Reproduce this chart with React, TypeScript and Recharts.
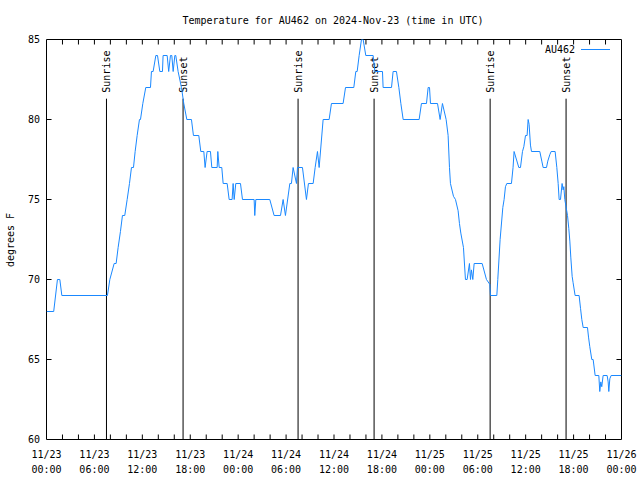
import React from 'react';
import { LineChart, Line, XAxis, YAxis, ReferenceLine, ReferenceArea } from 'recharts';

const FONT = '"DejaVu Sans Mono", monospace';
const LINE_COLOR = '#1a88ff';

const hours = [
  0, 0.9, 1.37, 1.67, 1.92, 7.63, 7.93, 8.47, 8.72, 8.97, 9.26, 9.51, 9.8, 10.1, 10.39, 10.64, 10.89, 11.1, 11.35, 11.64,
  11.77, 12.06, 12.43, 13.02, 13.14, 13.35, 13.69, 13.9, 14.19, 14.52, 14.6, 15.11, 15.3, 15.52, 15.69, 15.86, 16.07, 16.19,
  16.48, 16.9, 17.19, 17.57, 18.15, 18.4, 19.07, 19.32, 19.7, 19.86, 20.11, 20.53, 20.7, 21.37, 21.45, 21.62, 21.95, 22.12,
  22.62, 22.87, 23.24, 23.37, 23.5, 23.7, 24.29, 24.54, 26.0, 26.08, 26.21, 27.96, 28.5, 29.3, 29.63, 29.92, 30.47, 30.67,
  30.88, 31.3, 31.43, 32.05, 32.55, 32.8, 33.39, 33.64, 33.93, 34.14, 34.64, 35.39, 35.68, 37.14, 37.44, 38.48, 38.73, 38.9,
  39.15, 39.44, 39.65, 39.98, 40.9, 41.11, 42.07, 42.15, 43.2, 43.4, 43.82, 44.12, 44.37, 44.66, 46.66, 46.95, 47.58, 47.79,
  47.96, 48.08, 48.96, 49.29, 49.58, 50.04, 50.29, 50.46, 50.58, 50.96, 51.21, 51.54, 51.71, 51.88, 52.21, 52.46, 52.67,
  52.96, 53.09, 53.21, 53.38, 53.55, 54.55, 55.09, 55.51, 55.59, 56.39, 56.51, 56.8, 57.14, 57.3, 57.47, 57.64, 58.22, 58.42,
  58.55, 59.14, 59.35, 59.6, 59.77, 59.98, 60.18, 60.31, 60.43, 60.6, 60.73, 61.77, 62.02, 62.19, 62.61, 62.77, 63.02, 63.19,
  63.69, 63.9, 64.07, 64.19, 64.36, 64.56, 64.69, 64.78, 64.9, 65.24, 65.4, 65.53, 65.65, 65.82, 65.94, 66.19, 66.69, 66.87,
  67.03, 67.2, 67.74, 67.87, 68.03, 68.28, 68.45, 68.7, 69.16, 69.28, 69.41, 69.53, 69.7, 70.2, 70.33, 70.41, 70.54, 70.7, 72,
];

const temps = [
  68, 68, 70, 70, 69, 69, 70, 71, 71, 72, 73, 74, 74, 75, 76, 77, 77, 78, 79, 80,
  80, 81, 82, 82, 83, 83, 84, 84, 83, 83, 84, 84, 83, 84, 84, 83, 84, 84,
  83, 82, 81, 80, 80, 79, 79, 78, 78, 77, 78, 78, 77, 77, 78, 77, 77, 76,
  76, 75, 75, 76, 75, 76, 76, 75, 75, 74, 75, 75, 74, 74, 75, 74, 76, 76,
  77, 76, 77, 77, 75, 76, 76, 77, 78, 77, 80, 80, 81, 81, 82, 82, 83, 83,
  84, 85, 85, 84, 84, 83, 83, 82, 82, 83, 83, 82, 81, 80, 80, 81, 81, 82,
  82, 81, 81, 80, 81, 80, 79, 77, 76, 75.2, 75, 74.3, 73.5, 72.9, 72, 70, 70,
  71, 70, 70.6, 70, 71, 71, 70, 69.7, 69, 69, 70, 72.5, 74.5, 75, 75.8, 76, 76, 77,
  78, 77, 77, 78, 78.3, 79, 79, 80, 79.7, 78.4, 78, 78, 77.4, 77, 77, 77.4, 77.8, 78,
  78, 77, 76, 75, 75, 76, 75.6, 75.8, 75, 74, 73.2, 72.4, 71.4, 70.2, 69.8, 69, 69, 68.2,
  67.5, 67, 67, 66.4, 65.8, 65, 65, 64, 64, 63, 63.6, 63.3, 64, 64, 63.6, 63, 63.8, 64, 64,
];

const data = hours.map((h, i) => ({ h, t: temps[i] }));

const X_MIN = 0;
const X_MAX = 72;
const Y_MIN = 60;
const Y_MAX = 85;

const xMajorTicks = [0, 6, 12, 18, 24, 30, 36, 42, 48, 54, 60, 66, 72];
const xMinorTicks = [2, 4, 6, 8, 10, 12, 14, 16, 18, 20, 22, 24, 26, 28, 30, 32, 34, 36, 38, 40, 42, 44, 46, 48, 50, 52, 54, 56, 58, 60, 62, 64, 66, 68, 70];
const tickDates = ['11/23', '11/23', '11/23', '11/23', '11/24', '11/24', '11/24', '11/24', '11/25', '11/25', '11/25', '11/25', '11/26'];
const tickTimes = ['00:00', '06:00', '12:00', '18:00', '00:00', '06:00', '12:00', '18:00', '00:00', '06:00', '12:00', '18:00', '00:00'];
const yTicks = [60, 65, 70, 75, 80, 85];
const yInnerTicks = [65, 70, 75, 80];
const sunriseHours = [7.51, 31.5, 55.55];
const sunsetHours = [17.1, 41.02, 65.06];
const markerTop = 81.3;

// tick lengths expressed in axis units (≈5 px)
const X_TICK_LEN = 0.3125; // degrees
const Y_TICK_LEN = 0.63; // hours

const seriesName = 'AU462';
const title = 'Temperature for AU462 on 2024-Nov-23 (time in UTC)';
const yLabel = 'degrees F';

const textStyle = { fontFamily: FONT, fontSize: 10, fill: '#000' };

const XTick = (props: any) => {
  const { x, y, payload } = props;
  const i = xMajorTicks.indexOf(payload.value);
  if (i < 0) return null;
  return (
    <g>
      <text x={x} y={y + 18.5} textAnchor="middle" style={textStyle}>{tickDates[i]}</text>
      <text x={x} y={y + 33.5} textAnchor="middle" style={textStyle}>{tickTimes[i]}</text>
    </g>
  );
};

const YTick = (props: any) => {
  const { x, y, payload } = props;
  return (
    <text x={x} y={y + 3.5} textAnchor="end" style={textStyle}>{payload.value}</text>
  );
};

const markerLabel = (text: string) => (props: any) => {
  const vb = props.viewBox || {};
  const x = (vb.x ?? 0) + 4;
  const y = (vb.y ?? 0) - 6;
  return (
    <text x={x} y={y} transform={`rotate(-90 ${x} ${y})`} textAnchor="start" style={textStyle}>{text}</text>
  );
};

const tickSeg = (key: string, p1: { x: number; y: number }, p2: { x: number; y: number }) => (
  <ReferenceLine
    key={key}
    xAxisId="b"
    yAxisId="l"
    segment={[p1, p2]}
    stroke="#000"
    strokeWidth={1}
    ifOverflow="visible"
  />
);

export default function App() {
  return (
    <div style={{ position: 'absolute', left: 0, top: 0, width: 640, height: 480, background: '#fff' }}>
      <LineChart
        width={640}
        height={480}
        data={data}
        margin={{ top: 39.5, right: 18.5, bottom: 0.5, left: 0 }}
      >
        <XAxis
          xAxisId="b"
          dataKey="h"
          type="number"
          domain={[X_MIN, X_MAX]}
          allowDataOverflow
          ticks={xMajorTicks}
          interval={0}
          height={40}
          tickSize={0}
          tickMargin={0}
          tickLine={false}
          axisLine={false}
          tick={<XTick />}
        />
        <YAxis
          yAxisId="l"
          type="number"
          domain={[Y_MIN, Y_MAX]}
          allowDataOverflow
          ticks={yTicks}
          interval={0}
          width={46.5}
          tickSize={0}
          tickMargin={6.5}
          tickLine={false}
          axisLine={false}
          tick={<YTick />}
        />
        <ReferenceArea
          xAxisId="b"
          yAxisId="l"
          x1={X_MIN}
          x2={X_MAX}
          y1={Y_MIN}
          y2={Y_MAX}
          fill="none"
          fillOpacity={0}
          stroke="#000"
          strokeWidth={1}
          strokeOpacity={1}
          ifOverflow="visible"
        />
        {xMinorTicks.map((h) => tickSeg(`xb${h}`, { x: h, y: Y_MIN }, { x: h, y: Y_MIN + X_TICK_LEN }))}
        {xMinorTicks.map((h) => tickSeg(`xt${h}`, { x: h, y: Y_MAX }, { x: h, y: Y_MAX - X_TICK_LEN }))}
        {yInnerTicks.map((v) => tickSeg(`yl${v}`, { x: X_MIN, y: v }, { x: X_MIN + Y_TICK_LEN, y: v }))}
        {yInnerTicks.map((v) => tickSeg(`yr${v}`, { x: X_MAX, y: v }, { x: X_MAX - Y_TICK_LEN, y: v }))}
        {sunriseHours.map((h, i) => (
          <ReferenceLine
            key={`sr${i}`}
            xAxisId="b"
            yAxisId="l"
            segment={[{ x: h, y: Y_MIN }, { x: h, y: markerTop }]}
            stroke="#000"
            strokeWidth={1}
            label={markerLabel('Sunrise')}
          />
        ))}
        {sunsetHours.map((h, i) => (
          <ReferenceLine
            key={`ss${i}`}
            xAxisId="b"
            yAxisId="l"
            segment={[{ x: h, y: Y_MIN }, { x: h, y: markerTop }]}
            stroke="#000"
            strokeWidth={1}
            label={markerLabel('Sunset')}
          />
        ))}
        <Line
          xAxisId="b"
          yAxisId="l"
          type="linear"
          dataKey="t"
          name={seriesName}
          stroke={LINE_COLOR}
          strokeWidth={1}
          dot={false}
          activeDot={false}
          isAnimationActive={false}
        />
        <text x={333} y={24} textAnchor="middle" style={textStyle}>{title}</text>
        <text x={14} y={240} textAnchor="middle" transform="rotate(-90 14 240)" style={textStyle}>{yLabel}</text>
        <text x={575} y={53} textAnchor="end" style={textStyle}>{seriesName}</text>
        <line x1={581} y1={49.5} x2={610} y2={49.5} stroke={LINE_COLOR} strokeWidth={1} />
      </LineChart>
    </div>
  );
}
